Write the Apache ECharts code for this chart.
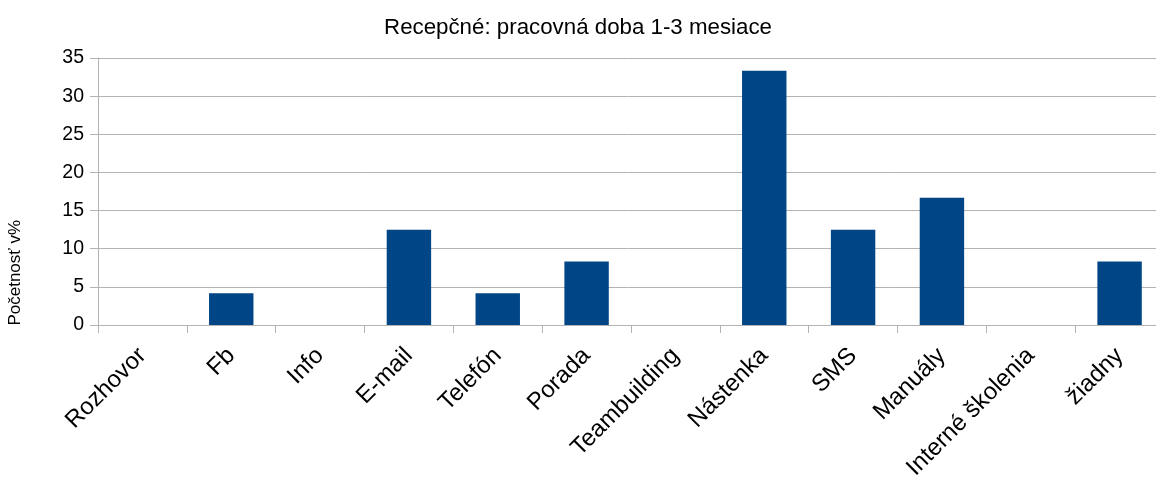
<!DOCTYPE html>
<html>
<head>
<meta charset="utf-8">
<script src="https://cdn.jsdelivr.net/npm/echarts@6/dist/echarts.min.js"></script>
<style>
  html, body { margin: 0; padding: 0; background: #fff; }
  #chart { width: 1156px; height: 479px; }
</style>
</head>
<body>
<div id="chart"></div>
<script>
// Communication channels reported by receptionists (1-3 months of employment)
const categories = ['Rozhovor', 'Fb', 'Info', 'E-mail', 'Telefón', 'Porada', 'Teambuilding',
                    'Nástenka', 'SMS', 'Manuály', 'Interné školenia', 'žiadny'];
const shares = [0, 4.17, 0, 12.5, 4.17, 8.33, 0, 33.33, 12.5, 16.67, 0, 8.33];
const titleText = 'Recepčné: pracovná doba 1-3 mesiace';
const yAxisTitle = 'Početnosť v%';

const chart = echarts.init(document.getElementById('chart'), null, { renderer: 'canvas' });
const font = 'Liberation Sans, Arial, sans-serif';

chart.setOption({
  animation: false,
  title: {
    text: titleText,
    left: 'center',
    top: 12,
    textStyle: { fontFamily: font, fontSize: 22.3, fontWeight: 'normal', color: '#000' }
  },
  graphic: [{
    type: 'text',
    left: 7,
    top: 220,
    rotation: Math.PI / 2,
    style: { text: yAxisTitle, font: '17px ' + font, fill: '#000' }
  }],
  // plot area runs slightly past the right edge of the canvas
  grid: {
    left: 98, width: 1066, top: 58, bottom: 154,
    containLabel: false, outerBoundsMode: 'none'
  },
  xAxis: {
    type: 'category',
    data: categories,
    axisLine: { lineStyle: { color: '#b3b3b3', width: 1 } },
    axisTick: { show: true, length: 8, lineStyle: { color: '#b3b3b3' } },
    axisLabel: {
      rotate: 45, interval: 0, margin: 27,
      fontFamily: font, fontSize: 24, color: '#000'
    }
  },
  yAxis: {
    type: 'value',
    min: 0, max: 35, interval: 5,
    axisLine: { show: true, lineStyle: { color: '#b3b3b3' } },
    axisTick: { show: true, length: 8, lineStyle: { color: '#b3b3b3' } },
    splitLine: { lineStyle: { color: '#b3b3b3', width: 1 } },
    axisLabel: { fontFamily: font, fontSize: 19.5, color: '#000', margin: 14 }
  },
  series: [{
    type: 'bar',
    data: shares,
    barCategoryGap: '50%',
    itemStyle: { color: '#004586' }
  }]
});
</script>
</body>
</html>
